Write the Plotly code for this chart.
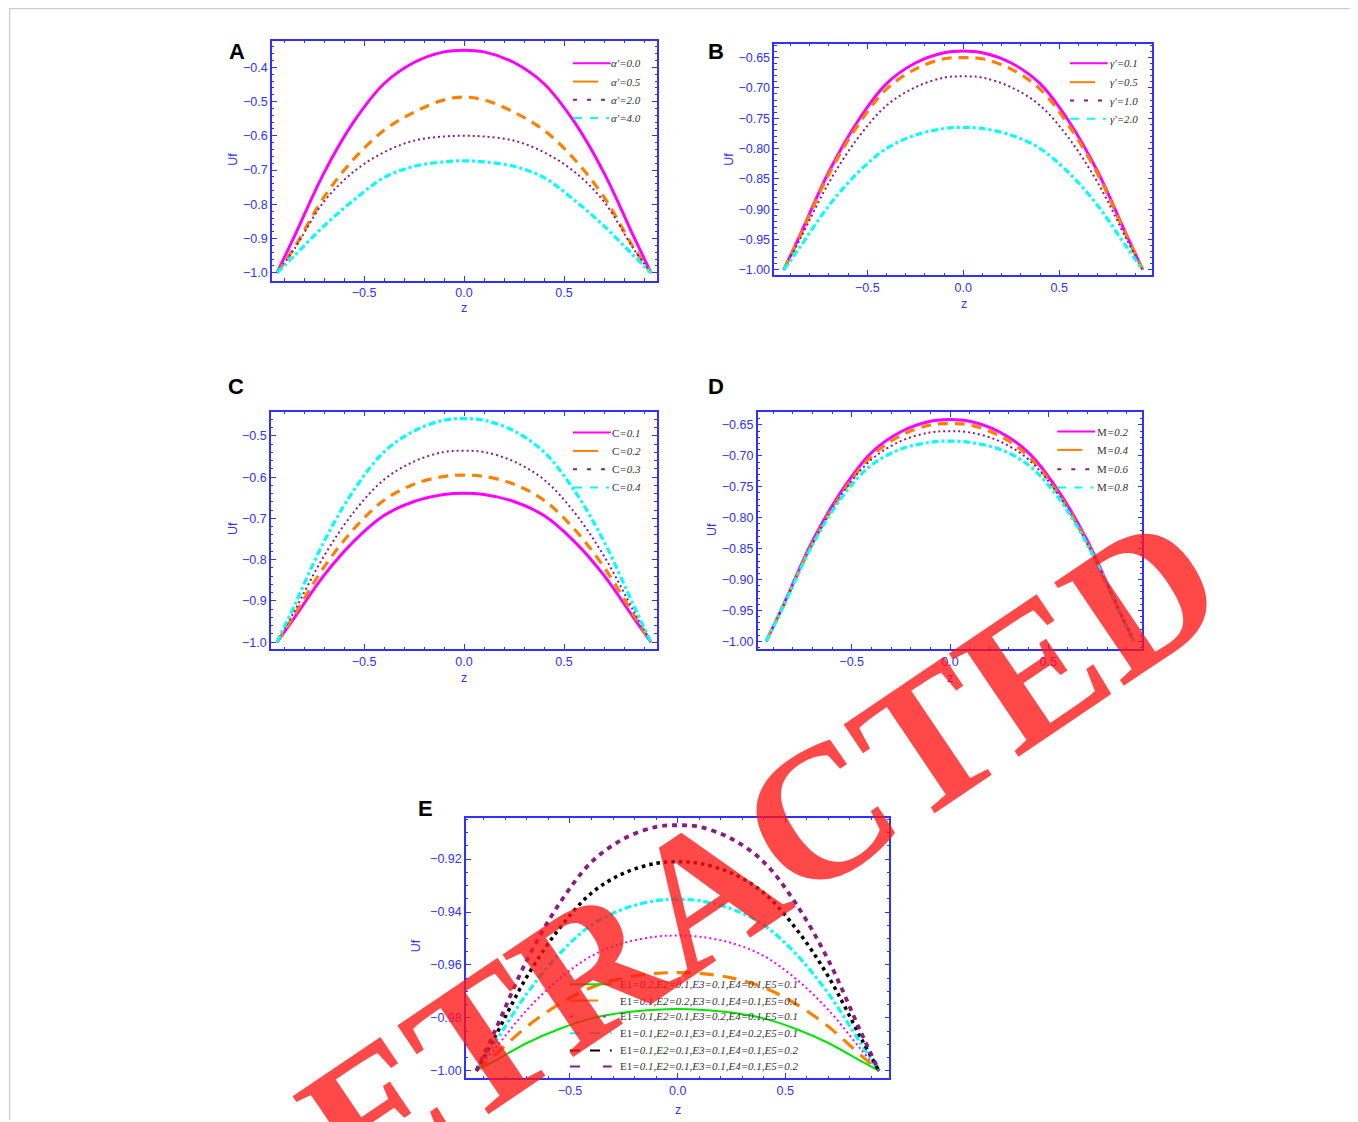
import plotly.graph_objects as go

# the page body has an 8px margin, so the figure is 1350x1114 placed at (8, 8)
OFF = 8
W, H = 1358 - OFF, 1122 - OFF

# ---------------- data ----------------
z = [-0.935, -0.85, -0.7, -0.55, -0.4, -0.25, -0.1, 0.0, 0.1, 0.25, 0.4, 0.55, 0.7, 0.85, 0.935]

a_labels = ["<i>α'=0.0</i>", "<i>α'=0.5</i>", "<i>α'=2.0</i>", "<i>α'=4.0</i>"]
a_y1 = [-1, -0.896, -0.708, -0.558, -0.448, -0.386, -0.355, -0.35, -0.355, -0.386, -0.448, -0.558, -0.708, -0.896, -1]
a_y2 = [-1, -0.928, -0.779, -0.667, -0.584, -0.531, -0.495, -0.487, -0.495, -0.531, -0.584, -0.667, -0.779, -0.928, -1]
a_y3 = [-1, -0.932, -0.792, -0.704, -0.648, -0.614, -0.602, -0.600, -0.602, -0.614, -0.648, -0.704, -0.792, -0.932, -1]
a_y4 = [-1, -0.951, -0.863, -0.787, -0.722, -0.689, -0.676, -0.673, -0.676, -0.689, -0.722, -0.787, -0.863, -0.951, -1]

b_labels = ["<i>γ'=0.1</i>", "<i>γ'=0.5</i>", "<i>γ'=1.0</i>", "<i>γ'=2.0</i>"]
b_y1 = [-1, -0.942, -0.838, -0.755, -0.693, -0.659, -0.642, -0.639, -0.642, -0.659, -0.693, -0.755, -0.838, -0.942, -1]
b_y2 = [-1, -0.944, -0.842, -0.762, -0.702, -0.669, -0.652, -0.650, -0.652, -0.669, -0.702, -0.762, -0.842, -0.944, -1]
b_y3 = [-1, -0.949, -0.856, -0.783, -0.729, -0.699, -0.683, -0.681, -0.683, -0.699, -0.729, -0.783, -0.856, -0.949, -1]
b_y4 = [-1, -0.962, -0.894, -0.840, -0.800, -0.778, -0.767, -0.765, -0.767, -0.778, -0.800, -0.840, -0.894, -0.962, -1]

c_labels = ["C<i>=0.1</i>", "C<i>=0.2</i>", "C<i>=0.3</i>", "C<i>=0.4</i>"]
c_y1 = [-1, -0.942, -0.838, -0.755, -0.693, -0.659, -0.642, -0.639, -0.642, -0.659, -0.693, -0.755, -0.838, -0.942, -1]
c_y2 = [-1, -0.935, -0.818, -0.725, -0.656, -0.617, -0.598, -0.595, -0.598, -0.617, -0.656, -0.725, -0.818, -0.935, -1]
c_y3 = [-1, -0.926, -0.791, -0.684, -0.606, -0.562, -0.539, -0.536, -0.539, -0.562, -0.606, -0.684, -0.791, -0.926, -1]
c_y4 = [-1, -0.913, -0.756, -0.631, -0.539, -0.488, -0.462, -0.458, -0.462, -0.488, -0.539, -0.631, -0.756, -0.913, -1]

d_labels = ["M<i>=0.2</i>", "M<i>=0.4</i>", "M<i>=0.6</i>", "M<i>=0.8</i>"]
d_y1 = [-1, -0.943, -0.838, -0.756, -0.695, -0.661, -0.644, -0.641, -0.644, -0.661, -0.695, -0.756, -0.838, -0.943, -1]
d_y2 = [-1, -0.944, -0.842, -0.761, -0.701, -0.667, -0.650, -0.648, -0.650, -0.667, -0.701, -0.761, -0.842, -0.944, -1]
d_y3 = [-1, -0.944, -0.842, -0.762, -0.706, -0.676, -0.662, -0.660, -0.662, -0.676, -0.706, -0.762, -0.842, -0.944, -1]
d_y4 = [-1, -0.945, -0.844, -0.767, -0.715, -0.689, -0.678, -0.676, -0.678, -0.689, -0.715, -0.767, -0.844, -0.945, -1]

e_labels = [
    "E1<i>=0.2,E2=0.1,E3=0.1,E4=0.1,E5=0.1</i>",
    "E1<i>=0.1,E2=0.2,E3=0.1,E4=0.1,E5=0.1</i>",
    "E1<i>=0.1,E2=0.1,E3=0.2,E4=0.1,E5=0.1</i>",
    "E1<i>=0.1,E2=0.1,E3=0.1,E4=0.2,E5=0.1</i>",
    "E1<i>=0.1,E2=0.1,E3=0.1,E4=0.1,E5=0.2</i>",
    "E1<i>=0.1,E2=0.1,E3=0.1,E4=0.1,E5=0.2</i>",
]
e_y1 = [-1, -0.9963, -0.9895, -0.9842, -0.9802, -0.9780, -0.9769, -0.9767, -0.9769, -0.9780, -0.9802, -0.9842, -0.9895, -0.9963, -1]
e_y2 = [-1, -0.9941, -0.9833, -0.9748, -0.9685, -0.9649, -0.9632, -0.9629, -0.9632, -0.9649, -0.9685, -0.9748, -0.9833, -0.9941, -1]
e_y3 = [-1, -0.9918, -0.9770, -0.9653, -0.9566, -0.9517, -0.9493, -0.9489, -0.9493, -0.9517, -0.9566, -0.9653, -0.9770, -0.9918, -1]
e_y4 = [-1, -0.9896, -0.9708, -0.9559, -0.9449, -0.9388, -0.9357, -0.9352, -0.9357, -0.9388, -0.9449, -0.9559, -0.9708, -0.9896, -1]
e_y5 = [-1, -0.9874, -0.9644, -0.9463, -0.9328, -0.9253, -0.9216, -0.9210, -0.9216, -0.9253, -0.9328, -0.9463, -0.9644, -0.9874, -1]
e_y6 = [-1, -0.9852, -0.9582, -0.9369, -0.9211, -0.9123, -0.9078, -0.9072, -0.9078, -0.9123, -0.9211, -0.9369, -0.9582, -0.9852, -1]

# ---------------- styles ----------------
BLUE = "#3030ff"
MAG, ORA, PUR, CYA, GRN, BLK = "#ff00ff", "#ff8000", "#8a1a8a", "#00ffff", "#00e600", "#000000"

STYLE4 = [
    dict(color=MAG, width=3, dash="solid", ldash="solid"),
    dict(color=ORA, width=3.2, dash="10px,7px", ldash="25px,20px"),
    dict(color=PUR, width=2, dash="2px,3px", ldash="4px,10px"),
    dict(color=CYA, width=3.2, dash="7px,3px,3px,3px", ldash="9px,8px,8px,8px,3px,20px"),
]
STYLE_E = [
    dict(color=GRN, width=2, dash="solid", ldash="solid"),
    dict(color=ORA, width=3.2, dash="14px,9px", ldash="28px,30px"),
    dict(color=MAG, width=2, dash="2px,3px", ldash="3px,30px"),
    dict(color=CYA, width=3.2, dash="7px,3px,3px,3px", ldash="10px,10px,10px,10px,3px,20px"),
    dict(color=BLK, width=3.5, dash="3.5px,4px", ldash="10px,10px,10px,10px,3px,20px"),
    dict(color=PUR, width=3.8, dash="5px,5px", ldash="10px,23px,10px,20px"),
]


def px_x(p):
    return (p - OFF) / W


def px_y(p):
    return 1 - (p - OFF) / H


fig = go.Figure()

panels = [
    (a_labels, [a_y1, a_y2, a_y3, a_y4], STYLE4, "x", "y"),
    (b_labels, [b_y1, b_y2, b_y3, b_y4], STYLE4, "x2", "y2"),
    (c_labels, [c_y1, c_y2, c_y3, c_y4], STYLE4, "x3", "y3"),
    (d_labels, [d_y1, d_y2, d_y3, d_y4], STYLE4, "x4", "y4"),
    (e_labels, [e_y1, e_y2, e_y3, e_y4, e_y5, e_y6], STYLE_E, "x5", "y5"),
]

for labels, ys, styles, xa, ya in panels:
    for lab, yv, st in zip(labels, ys, styles):
        fig.add_trace(go.Scatter(
            x=z, y=yv, mode="lines", name=lab, showlegend=False,
            line=dict(color=st["color"], width=st["width"], dash=st["dash"], shape="spline", smoothing=1.0),
            xaxis=xa, yaxis=ya,
        ))

# panel geometry in pixels: (left, right, top, bottom), x range, y range, y dtick, y minor, y format
geo = [
    (272, 657, 41, 281, [-0.96, 0.965], [-1.0224, -0.323], 0.1, 0.02, ".1f"),
    (774.3, 1152.3, 44, 275.7, [-0.985, 0.985], [-1.009, -0.6275], 0.05, 0.01, ".2f"),
    (271, 656.7, 412.3, 650, [-0.965, 0.9635], [-1.016, -0.441], 0.1, 0.02, ".1f"),
    (757.7, 1142.3, 412.7, 650, [-0.978, 0.978], [-1.012, -0.629], 0.05, 0.01, ".2f"),
    (466, 889.3, 819.3, 1080, [-0.983, 0.983], [-1.00276, -0.9044], 0.02, 0.005, ".2f"),
]

tickfont = dict(family="Liberation Sans, Arial, sans-serif", size=12.5, color=BLUE)
layout = dict(
    width=W, height=H,
    margin=dict(l=0, r=0, t=0, b=0),
    paper_bgcolor="white", plot_bgcolor="white",
    showlegend=False,
)

for i, (l, r, t, b, xr, yr, ydt, ymin, yfmt) in enumerate(geo):
    sfx = "" if i == 0 else str(i + 1)
    common = dict(
        showline=True, linecolor=BLUE, linewidth=1.5, mirror="ticks",
        ticks="inside", ticklen=5, tickwidth=1, tickcolor=BLUE,
        showgrid=False, zeroline=False, tickfont=tickfont,
    )
    layout["xaxis" + sfx] = dict(
        common, domain=[px_x(l), px_x(r)], range=xr, tick0=0, dtick=0.5,
        tickformat=".1f", anchor="y" + sfx,
        minor=dict(ticks="inside", ticklen=2.5, tickcolor=BLUE, dtick=0.1, showgrid=False),
    )
    layout["yaxis" + sfx] = dict(
        common, domain=[px_y(b), px_y(t)], range=yr, tick0=-1, dtick=ydt,
        tickformat=yfmt, anchor="x" + sfx,
        minor=dict(ticks="inside", ticklen=2.5, tickcolor=BLUE, dtick=ymin, showgrid=False),
    )

fig.update_layout(**layout)

ann = []
shapes = []

# ---------- legends drawn as sample lines + text ----------
legfont = dict(family="Liberation Serif, Times New Roman, serif", size=11, color="#333333")
leg_geo = [
    (573, 610.7, 643.3, "right", [63.3, 81.7, 100, 118.3]),
    (1070, 1107.7, 1140, "right", [63.3, 82.3, 100.7, 119]),
    (573, 610.7, 643.3, "right", [433.3, 451.7, 470, 488.3]),
    (1057.3, 1095, 1130, "right", [432.3, 450.7, 470, 488.3]),
    (570, 611.7, 618.3, "left", [986, 1002.3, 1018.3, 1035, 1052.3, 1068.3]),
]
for (labels, ys, styles, xa, ya), (lx0, lx1, tx, tanc, rows) in zip(panels, leg_geo):
    for lab, st, ry in zip(labels, styles, rows):
        shapes.append(dict(type="line", xref="paper", yref="paper",
                           x0=px_x(lx0), x1=px_x(lx1), y0=px_y(ry), y1=px_y(ry),
                           line=dict(color=st["color"], width=2, dash=st["ldash"])))
        ann.append(dict(text=lab, x=px_x(tx), y=px_y(ry), xref="paper", yref="paper",
                        xanchor=tanc, yanchor="middle", showarrow=False, font=legfont))

# panel letters
for txt, x, y in [("A", 237, 52), ("B", 716, 52), ("C", 236, 387), ("D", 716, 387), ("E", 425, 810)]:
    ann.append(dict(text="<b>" + txt + "</b>", x=px_x(x), y=px_y(y), xref="paper", yref="paper",
                    xanchor="center", yanchor="middle",
                    showarrow=False, font=dict(family="Liberation Sans, Arial", size=22, color="black")))
# axis titles
axfont = dict(family="Liberation Sans, Arial", size=12.5, color=BLUE)
for (ux, uy), (zx, zy) in [((233, 160), (464, 309)), ((729, 160), (964, 305)),
                           ((233, 530), (464, 679)), ((712, 530), (950, 679)),
                           ((416, 948), (678, 1112))]:
    ann.append(dict(text="Uf", x=px_x(ux), y=px_y(uy), xref="paper", yref="paper", showarrow=False,
                    xanchor="center", yanchor="middle", textangle=-90, font=axfont))
    ann.append(dict(text="z", x=px_x(zx), y=px_y(zy), xref="paper", yref="paper", showarrow=False,
                    xanchor="center", yanchor="middle", font=axfont))
# watermark
ann.append(dict(text="<b>RETRACTED</b>", x=px_x(705), y=px_y(893), xref="paper", yref="paper",
                xanchor="center", yanchor="middle",
                showarrow=False, textangle=-34,
                font=dict(family="Liberation Serif, Times New Roman, serif", size=190,
                          color="rgba(255,20,20,0.78)")))

# page frame lines
shapes.append(dict(type="line", xref="paper", yref="paper", x0=px_x(9), x1=1, y0=px_y(8.6), y1=px_y(8.6),
                   line=dict(color="#cccccc", width=1.3)))
shapes.append(dict(type="line", xref="paper", yref="paper", x0=px_x(9.6), x1=px_x(9.6), y0=0, y1=px_y(8.6),
                   line=dict(color="#cccccc", width=1.3)))

fig.update_layout(annotations=ann, shapes=shapes)

fig.write_html("out.html")
